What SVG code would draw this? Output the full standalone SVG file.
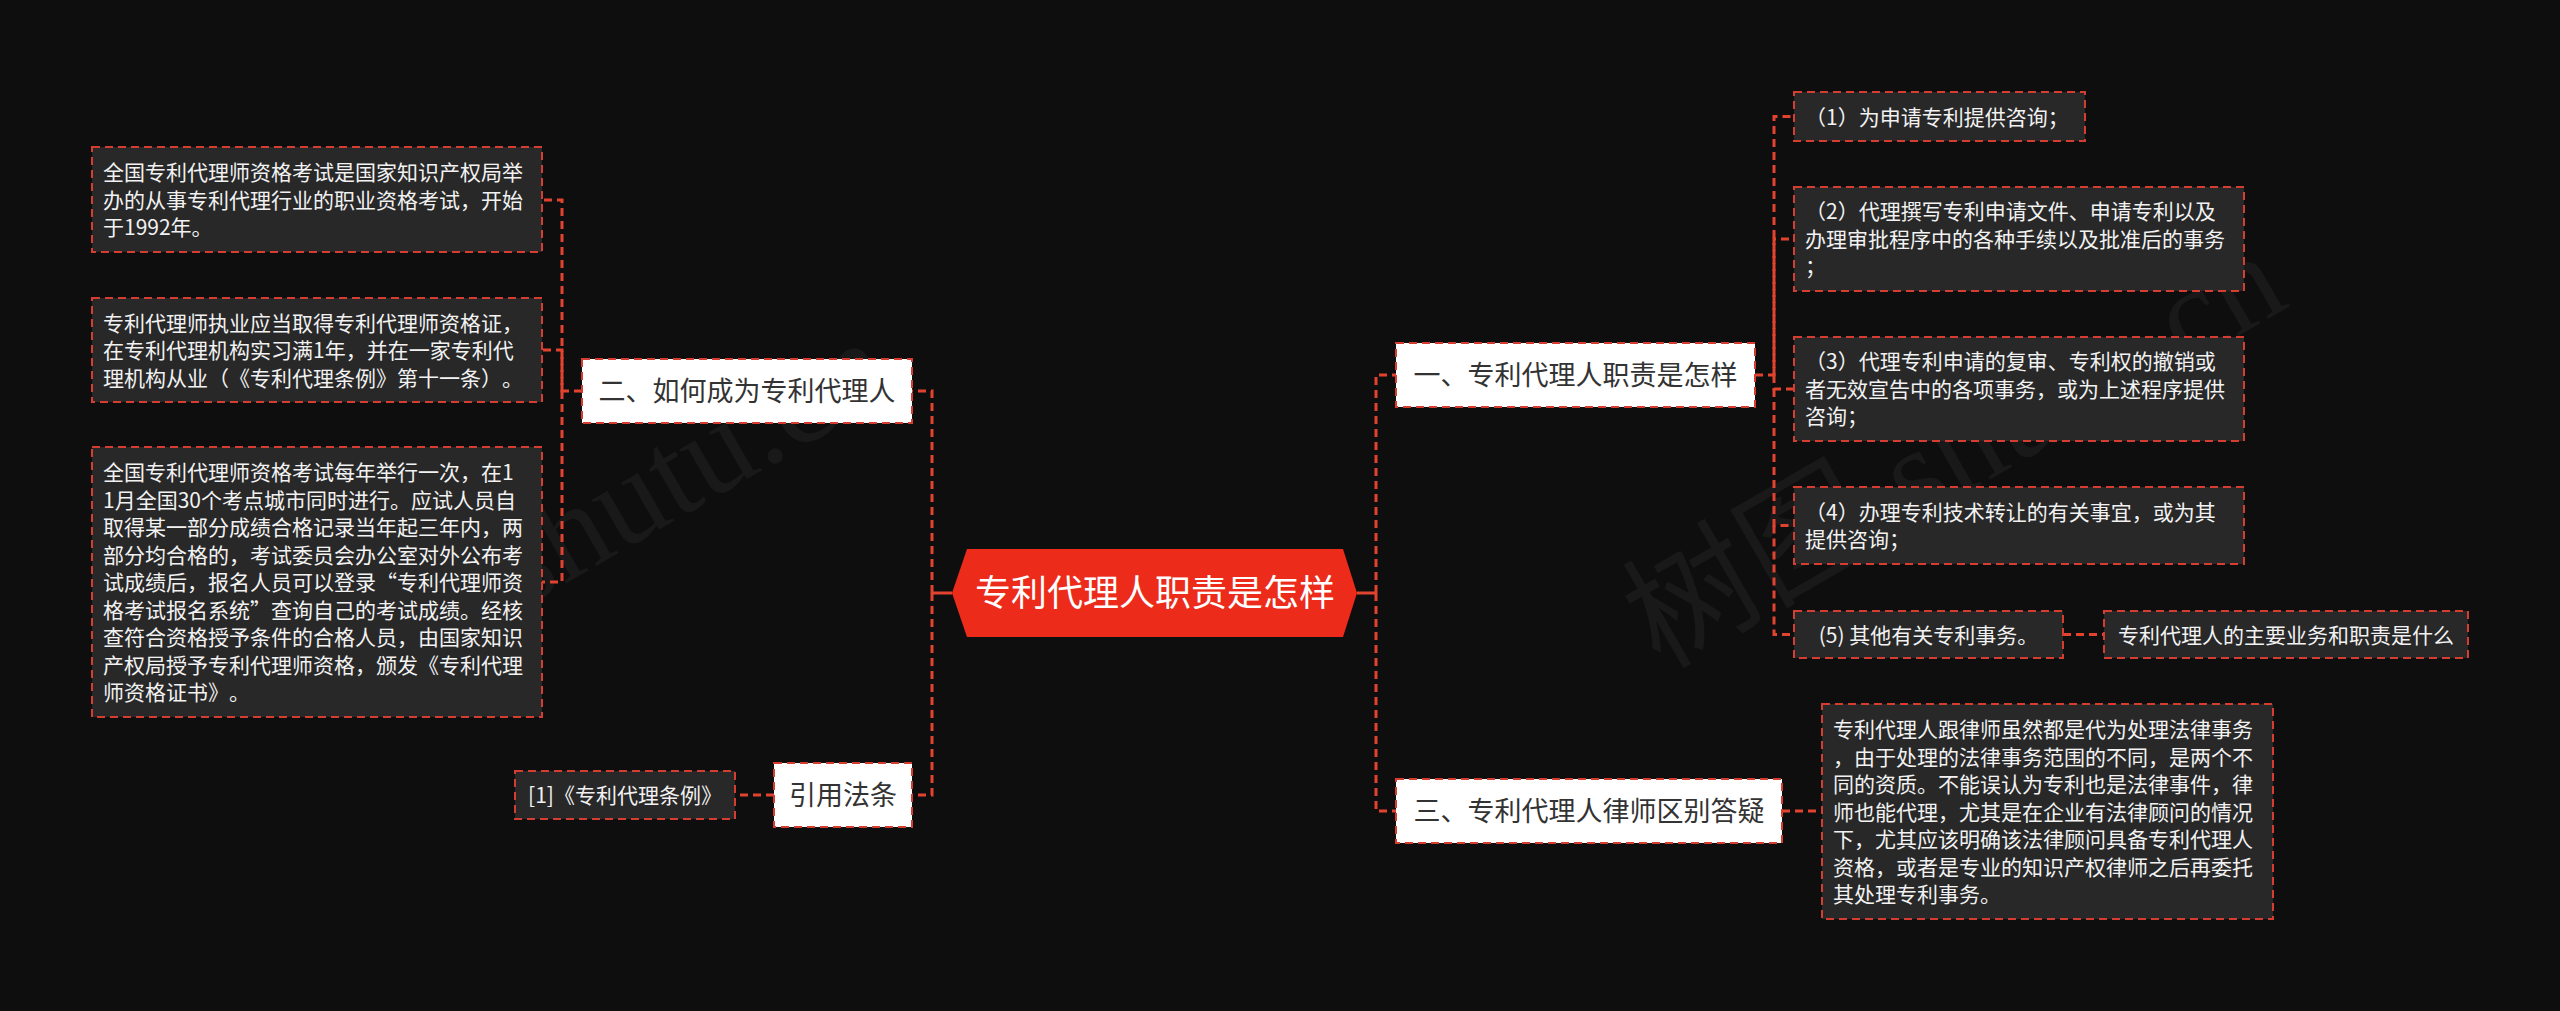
<svg xmlns="http://www.w3.org/2000/svg" width="2560" height="1011" viewBox="0 0 2560 1011">
<style>
text{text-spacing-trim:space-all}
.bg{fill:#0e0e0e}
.wm{font-family:"Liberation Serif","Noto Sans CJK SC",serif;fill:#191919;font-size:130px}
.leaf{fill:#282828;stroke:#d63d31;stroke-width:2;stroke-dasharray:8 5}
.main{fill:#ffffff;stroke:#d63d31;stroke-width:2;stroke-dasharray:8 5}
.lt{font-family:"Noto Sans CJK SC","Noto Sans",sans-serif;font-size:21px;fill:#f2f2f2}
.mt{font-family:"Noto Sans CJK SC","Noto Sans",sans-serif;font-size:27px;fill:#333333;text-anchor:middle}
.ct{font-family:"Noto Sans CJK SC","Noto Sans",sans-serif;font-size:36px;fill:#ffffff;text-anchor:middle}
.con{fill:none;stroke:#e2432f;stroke-width:3;stroke-dasharray:8 5}
.stub{fill:none;stroke:#e2432f;stroke-width:3}
</style>
<rect class="bg" x="0" y="0" width="2560" height="1011"/>
<text class="wm" transform="translate(520,610) rotate(-30)">shutu.cn</text>
<text class="wm" transform="translate(1660,670) rotate(-30)">树图 shutu.cn</text>

<g id="connectors">
<path class="stub" d="M952,593 H932 M1357,593 H1376"/>
<path class="con" d="M932,593 V391 H912"/>
<path class="con" d="M932,593 V795 H912"/>
<path class="con" d="M1376,593 V375 H1396"/>
<path class="con" d="M1376,593 V811 H1396"/>
<path class="con" d="M582,391 H562 V200 H542"/>
<path class="con" d="M562,391 V350 H542"/>
<path class="con" d="M562,391 V582 H542"/>
<path class="con" d="M774,795 H735"/>
<path class="con" d="M1755,375 H1774 V116.5 H1794"/>
<path class="con" d="M1774,375 V239 H1794"/>
<path class="con" d="M1774,375 V389 H1794"/>
<path class="con" d="M1774,389 V525.5 H1794"/>
<path class="con" d="M1774,525.5 V634.5 H1794"/>
<path class="con" d="M2063,634.5 H2104"/>
<path class="con" d="M1782,811 H1822"/>
</g>

<g id="center">
<polygon points="952,593 967,549 1343,549 1357,593 1343,637 967,637" fill="#ec2b1b"/>
<text class="ct" x="1155" y="606">专利代理人职责是怎样</text>
</g>

<g id="n2">
<rect class="main" x="582" y="359" width="330" height="64"/>
<text class="mt" x="747" y="401">二、如何成为专利代理人</text>
</g>
<g id="n2c1">
<rect class="leaf" x="92" y="147" width="450" height="105"/>
<text class="lt" x="103" y="180"><tspan x="103">全国专利代理师资格考试是国家知识产权局举</tspan><tspan x="103" dy="27.5">办的从事专利代理行业的职业资格考试，开始</tspan><tspan x="103" dy="27.5">于1992年。</tspan></text>
</g>
<g id="n2c2">
<rect class="leaf" x="92" y="298" width="450" height="104"/>
<text class="lt" x="103" y="330.5"><tspan x="103">专利代理师执业应当取得专利代理师资格证，</tspan><tspan x="103" dy="27.5">在专利代理机构实习满1年，并在一家专利代</tspan><tspan x="103" dy="27.5">理机构从业（《专利代理条例》第十一条）。</tspan></text>
</g>
<g id="n2c3">
<rect class="leaf" x="92" y="447" width="450" height="270"/>
<text class="lt" x="103" y="480"><tspan x="103">全国专利代理师资格考试每年举行一次，在1</tspan><tspan x="103" dy="27.5">1月全国30个考点城市同时进行。应试人员自</tspan><tspan x="103" dy="27.5">取得某一部分成绩合格记录当年起三年内，两</tspan><tspan x="103" dy="27.5">部分均合格的，考试委员会办公室对外公布考</tspan><tspan x="103" dy="27.5">试成绩后，报名人员可以登录“专利代理师资</tspan><tspan x="103" dy="27.5">格考试报名系统”查询自己的考试成绩。经核</tspan><tspan x="103" dy="27.5">查符合资格授予条件的合格人员，由国家知识</tspan><tspan x="103" dy="27.5">产权局授予专利代理师资格，颁发《专利代理</tspan><tspan x="103" dy="27.5">师资格证书》。</tspan></text>
</g>

<g id="n4">
<rect class="main" x="774" y="763" width="138" height="64"/>
<text class="mt" x="843" y="805">引用法条</text>
</g>
<g id="n4c1">
<rect class="leaf" x="515" y="771" width="220" height="48"/>
<text class="lt" x="625" y="803" text-anchor="middle">[1]《专利代理条例》</text>
</g>

<g id="n1">
<rect class="main" x="1396" y="343" width="359" height="64"/>
<text class="mt" x="1575.5" y="385">一、专利代理人职责是怎样</text>
</g>
<g id="n1c1">
<rect class="leaf" x="1794" y="92" width="291" height="49"/>
<text class="lt" x="1805" y="124.5">（1）为申请专利提供咨询；</text>
</g>
<g id="n1c2">
<rect class="leaf" x="1794" y="187" width="450" height="104"/>
<text class="lt" x="1805" y="219"><tspan x="1805">（2）代理撰写专利申请文件、申请专利以及</tspan><tspan x="1805" dy="27.5">办理审批程序中的各种手续以及批准后的事务</tspan><tspan x="1805" dy="27.5">；</tspan></text>
</g>
<g id="n1c3">
<rect class="leaf" x="1794" y="337" width="450" height="104"/>
<text class="lt" x="1805" y="369"><tspan x="1805">（3）代理专利申请的复审、专利权的撤销或</tspan><tspan x="1805" dy="27.5">者无效宣告中的各项事务，或为上述程序提供</tspan><tspan x="1805" dy="27.5">咨询；</tspan></text>
</g>
<g id="n1c4">
<rect class="leaf" x="1794" y="487" width="450" height="77"/>
<text class="lt" x="1805" y="519.75"><tspan x="1805">（4）办理专利技术转让的有关事宜，或为其</tspan><tspan x="1805" dy="27.5">提供咨询；</tspan></text>
</g>
<g id="n1c5">
<rect class="leaf" x="1794" y="611" width="269" height="47"/>
<text class="lt" x="1928.5" y="642.5" text-anchor="middle">(5) 其他有关专利事务。</text>
</g>
<g id="n1c5a">
<rect class="leaf" x="2104" y="611" width="364" height="47"/>
<text class="lt" x="2286" y="642.5" text-anchor="middle">专利代理人的主要业务和职责是什么</text>
</g>

<g id="n3">
<rect class="main" x="1396" y="779" width="386" height="64"/>
<text class="mt" x="1589" y="821">三、专利代理人律师区别答疑</text>
</g>
<g id="n3c1">
<rect class="leaf" x="1822" y="704" width="451" height="215"/>
<text class="lt" x="1833" y="737"><tspan x="1833">专利代理人跟律师虽然都是代为处理法律事务</tspan><tspan x="1833" dy="27.5">，由于处理的法律事务范围的不同，是两个不</tspan><tspan x="1833" dy="27.5">同的资质。不能误认为专利也是法律事件，律</tspan><tspan x="1833" dy="27.5">师也能代理，尤其是在企业有法律顾问的情况</tspan><tspan x="1833" dy="27.5">下，尤其应该明确该法律顾问具备专利代理人</tspan><tspan x="1833" dy="27.5">资格，或者是专业的知识产权律师之后再委托</tspan><tspan x="1833" dy="27.5">其处理专利事务。</tspan></text>
</g>
</svg>
